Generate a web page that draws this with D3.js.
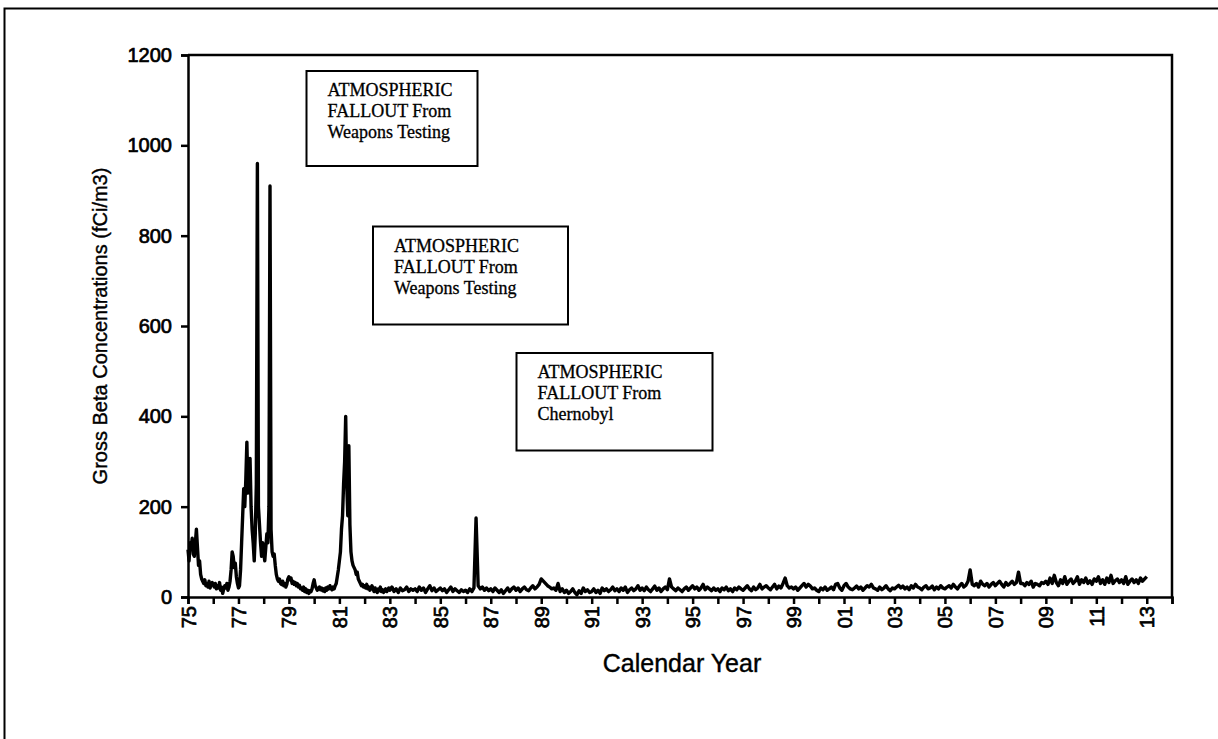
<!DOCTYPE html>
<html>
<head>
<meta charset="utf-8">
<script src="https://cdn.jsdelivr.net/npm/d3@7"></script>
<style>
  html, body { margin: 0; padding: 0; background: #fff; }
  svg { display: block; }
</style>
</head>
<body>
<svg id="chart" width="1218" height="739"></svg>
<script>
// ----- //
// data
// ----- //
// half-monthly readings, 1975-1982 (24 per year)
const halfMonthlyStart = 1975;
const halfMonthly = [
  [105, 80, 120, 110, 130, 95, 90, 120, 150, 110, 70, 80, 50, 40, 35, 30, 38, 25, 30, 22, 35, 20, 28, 32],
  [28, 22, 30, 18, 25, 20, 32, 15, 22, 8, 18, 25, 20, 30, 15, 22, 35, 60, 100, 90, 65, 75, 45, 30],
  [20, 25, 60, 120, 180, 240, 200, 260, 343, 230, 250, 307, 200, 150, 120, 80, 140, 250, 960, 200, 160, 120, 90, 120],
  [100, 80, 110, 140, 120, 200, 910, 150, 100, 90, 95, 70, 50, 40, 35, 40, 30, 28, 35, 25, 30, 22, 28, 40],
  [45, 38, 42, 30, 35, 28, 32, 25, 30, 22, 26, 18, 20, 15, 22, 12, 18, 10, 15, 8, 14, 12, 18, 30],
  [38, 25, 20, 15, 18, 22, 16, 20, 14, 18, 12, 20, 15, 22, 18, 25, 20, 16, 22, 18, 25, 30, 45, 60],
  [80, 100, 150, 180, 250, 300, 400, 250, 180, 335, 160, 100, 80, 70, 65, 60, 50, 55, 40, 35, 30, 25, 28, 22],
  [25, 20, 28, 18, 22, 15, 20, 25, 18, 12, 20, 15, 10, 18, 14, 22, 12, 16, 10, 14, 18, 12, 16, 20]
];

// monthly readings, 1983-2012 (12 per year)
const monthlyStart = 1983;
const monthly = [
  [15, 22, 12, 18, 10, 20, 14, 16, 22, 12, 18, 15],
  [18, 12, 22, 15, 20, 10, 18, 25, 14, 20, 12, 16],
  [20, 14, 18, 10, 16, 22, 12, 18, 14, 10, 16, 12],
  [15, 10, 18, 12, 20, 175, 25, 18, 22, 15, 20, 14],
  [18, 12, 20, 15, 10, 16, 8, 14, 20, 12, 18, 22],
  [15, 20, 12, 18, 22, 16, 14, 20, 25, 18, 22, 28],
  [40, 35, 30, 25, 22, 18, 20, 15, 30, 12, 18, 10],
  [15, 8, 12, 18, 10, 5, 14, 8, 20, 12, 16, 10],
  [12, 18, 10, 15, 8, 20, 14, 18, 12, 16, 22, 14],
  [18, 12, 20, 15, 22, 10, 16, 20, 14, 18, 25, 15],
  [20, 14, 22, 16, 12, 18, 24, 15, 20, 12, 18, 22],
  [16, 40, 22, 18, 14, 20, 16, 12, 18, 22, 15, 20],
  [25, 18, 22, 15, 20, 28, 16, 22, 18, 14, 20, 15],
  [18, 12, 20, 16, 22, 14, 18, 12, 20, 16, 22, 18],
  [15, 20, 25, 18, 14, 22, 16, 20, 28, 18, 22, 25],
  [20, 16, 22, 28, 18, 24, 20, 30, 42, 25, 20, 22],
  [18, 22, 15, 20, 25, 30, 22, 28, 24, 18, 20, 15],
  [12, 20, 16, 22, 15, 18, 22, 16, 28, 30, 20, 15],
  [25, 30, 22, 18, 16, 20, 24, 18, 22, 15, 20, 25],
  [22, 28, 20, 18, 15, 22, 16, 20, 25, 18, 14, 20],
  [18, 22, 26, 20, 24, 18, 22, 16, 25, 20, 28, 22],
  [20, 16, 22, 25, 18, 20, 24, 16, 22, 18, 25, 20],
  [18, 22, 25, 20, 28, 22, 18, 25, 30, 22, 26, 35],
  [60, 28, 25, 30, 22, 35, 28, 25, 30, 22, 28, 32],
  [25, 30, 35, 28, 22, 32, 26, 30, 35, 28, 32, 55],
  [30, 30, 25, 32, 28, 35, 22, 30, 28, 25, 32, 30],
  [35, 28, 42, 30, 48, 32, 25, 38, 30, 45, 28, 35],
  [40, 30, 35, 45, 28, 38, 32, 42, 30, 36, 28, 40],
  [35, 45, 30, 38, 28, 42, 32, 48, 30, 36, 40, 32],
  [38, 30, 45, 28, 35, 40, 32, 38, 30, 42, 35, 40]
];
const lastReading = { year: 2013, value: 45 };

// axes
const xTickYears = d3.range(1975, 2015);
const yTickValues = [0, 200, 400, 600, 800, 1000, 1200];

// annotation boxes
const noteLines = [
  ["ATMOSPHERIC", "FALLOUT From", "Weapons Testing"],
  ["ATMOSPHERIC", "FALLOUT From", "Weapons Testing"],
  ["ATMOSPHERIC", "FALLOUT From", "Chernobyl"]
];
const noteBoxes = [
  { x: 306.5, y: 71, w: 171, h: 95 },
  { x: 373, y: 226.5, w: 195, h: 98 },
  { x: 516.5, y: 353, w: 196, h: 97.5 }
];

// ----- //
// build the series
// ----- //
const points = [];
halfMonthly.forEach((vals, i) => {
  vals.forEach((v, j) => points.push({ t: halfMonthlyStart + i + j / vals.length, v: v }));
});
monthly.forEach((vals, i) => {
  vals.forEach((v, j) => points.push({ t: monthlyStart + i + j / vals.length, v: v }));
});
points.push({ t: lastReading.year, v: lastReading.value });

// ----- //
// draw
// ----- //
const svg = d3.select("#chart");
const plot = { left: 188, right: 1172, top: 55, bottom: 597 };
const sans = "'Liberation Sans', Arial, sans-serif";
const serif = "'Liberation Serif', 'Times New Roman', serif";

const x = d3.scaleLinear().domain([1975, 2014]).range([plot.left, plot.right]);
const y = d3.scaleLinear().domain([0, 1200]).range([plot.bottom, plot.top]);

// outer frame (only top and left edges show)
svg.append("path")
  .attr("d", `M4.5,739 L4.5,8.5 L1218,8.5`)
  .attr("fill", "none")
  .attr("stroke", "#000")
  .attr("stroke-width", 2);

// plot frame top and right
svg.append("path")
  .attr("d", `M${plot.left},${plot.top} L${plot.right},${plot.top} L${plot.right},${plot.bottom}`)
  .attr("fill", "none")
  .attr("stroke", "#000")
  .attr("stroke-width", 2.5);

// x axis
const xAxis = svg.append("g")
  .attr("transform", `translate(0,${plot.bottom})`)
  .call(d3.axisBottom(x)
    .tickValues(xTickYears)
    .tickSize(7)
    .tickFormat(d => (d % 2 === 1 && d < 2014) ? String(d % 100).padStart(2, "0") : ""));
xAxis.select(".domain").attr("stroke-width", 2.5);
xAxis.selectAll(".tick line").attr("stroke-width", 2.5);
xAxis.selectAll(".tick text")
  .attr("font-family", sans)
  .attr("font-size", 20)
  .attr("fill", "#000")
  .attr("stroke", "#000")
  .attr("stroke-width", 0.7)
  .attr("transform", "rotate(-90)")
  .attr("text-anchor", "end")
  .attr("x", -9)
  .attr("y", 0)
  .attr("dy", "0.35em");

// y axis
const yAxis = svg.append("g")
  .attr("transform", `translate(${plot.left},0)`)
  .call(d3.axisLeft(y).tickValues(yTickValues).tickSize(7).tickPadding(9).tickFormat(d3.format("d")));
yAxis.select(".domain").attr("stroke-width", 2.5);
yAxis.selectAll(".tick line").attr("stroke-width", 2.5);
yAxis.selectAll(".tick text")
  .attr("font-family", sans)
  .attr("font-size", 20)
  .attr("fill", "#000")
  .attr("stroke", "#000")
  .attr("stroke-width", 0.7);

// axis titles
svg.append("text")
  .attr("transform", `translate(107,${(plot.top + plot.bottom) / 2}) rotate(-90)`)
  .attr("text-anchor", "middle")
  .attr("font-family", sans)
  .attr("font-size", 20)
  .attr("stroke", "#000")
  .attr("stroke-width", 0.4)
  .text("Gross Beta Concentrations (fCi/m3)");

svg.append("text")
  .attr("x", 682)
  .attr("y", 672)
  .attr("text-anchor", "middle")
  .attr("font-family", sans)
  .attr("font-size", 25)
  .attr("stroke", "#000")
  .attr("stroke-width", 0.4)
  .text("Calendar Year");

// series
svg.append("path")
  .datum(points)
  .attr("fill", "none")
  .attr("stroke", "#000")
  .attr("stroke-width", 3.4)
  .attr("stroke-linejoin", "round")
  .attr("d", d3.line().x(d => x(d.t)).y(d => y(d.v)));

// annotation boxes
noteBoxes.forEach((b, i) => {
  const g = svg.append("g");
  g.append("rect")
    .attr("x", b.x).attr("y", b.y)
    .attr("width", b.w).attr("height", b.h)
    .attr("fill", "#fff")
    .attr("stroke", "#000")
    .attr("stroke-width", 2);
  g.append("text")
    .attr("font-family", serif)
    .attr("font-size", 18)
    .attr("stroke", "#000")
    .attr("stroke-width", 0.3)
    .selectAll("tspan")
    .data(noteLines[i])
    .join("tspan")
    .attr("x", b.x + 21)
    .attr("y", (d, k) => b.y + 25 + k * 21)
    .text(d => d);
});
</script>
</body>
</html>
